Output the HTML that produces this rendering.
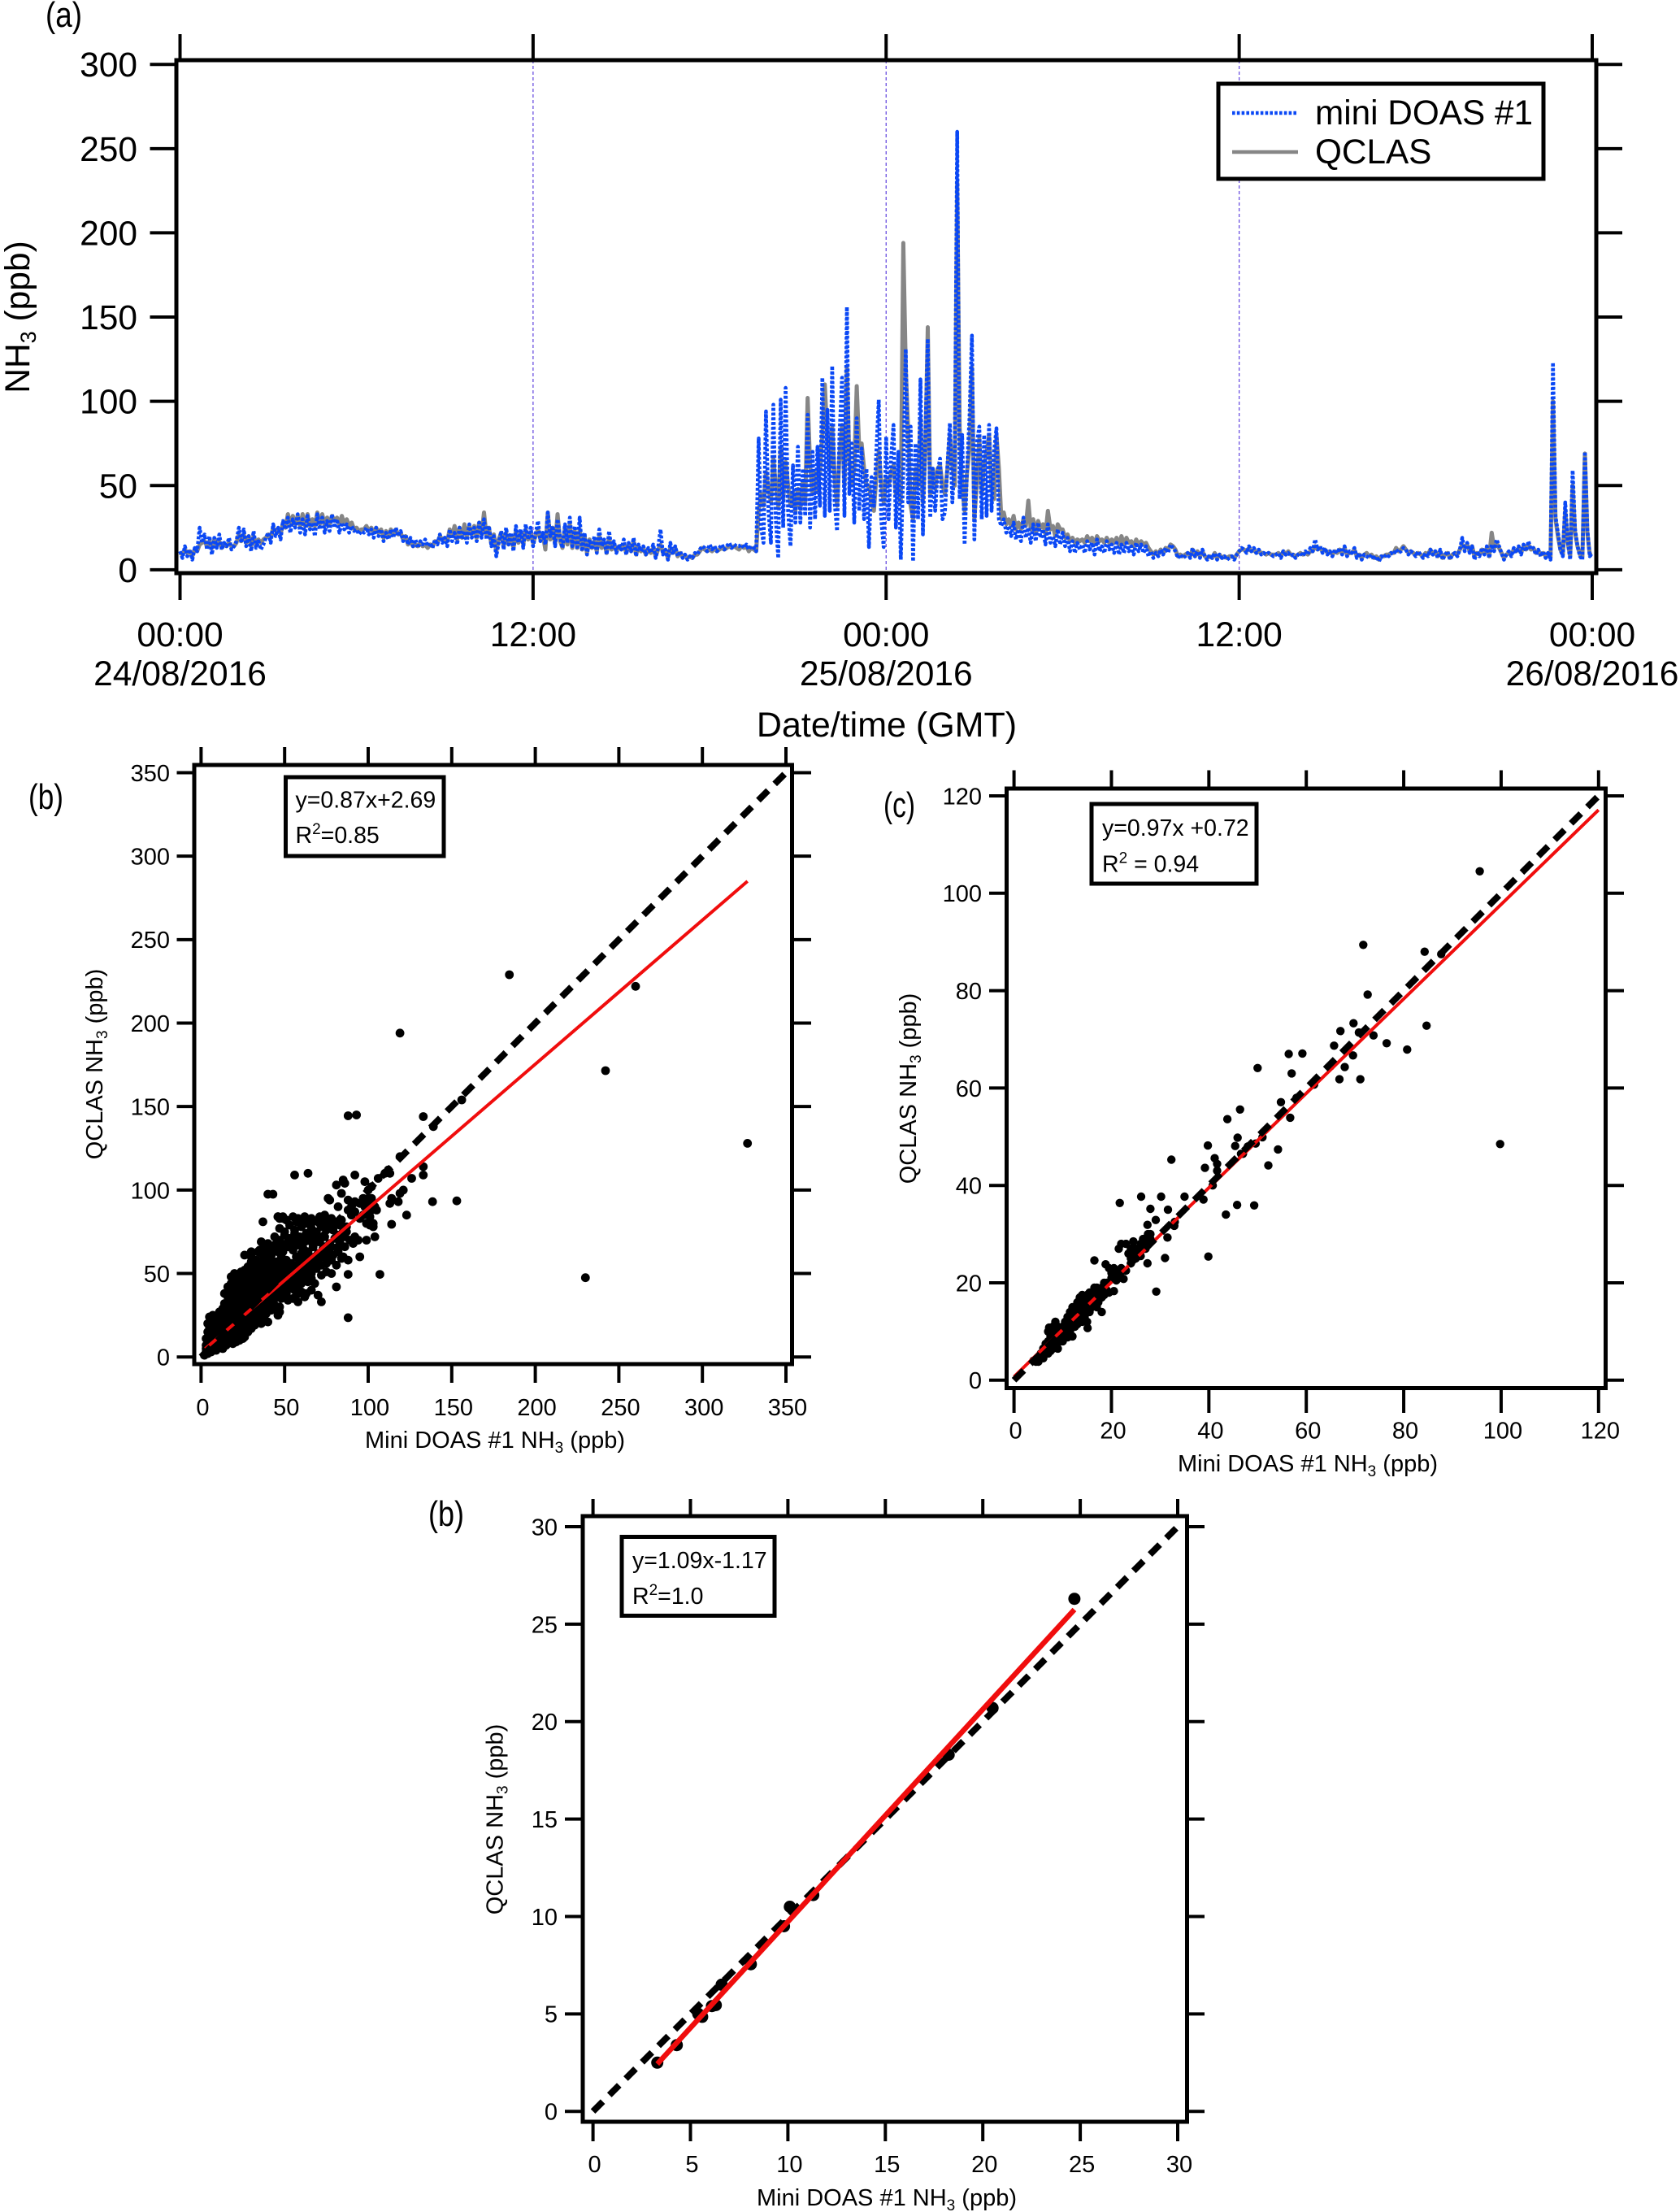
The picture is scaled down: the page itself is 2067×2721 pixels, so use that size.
<!DOCTYPE html>
<html lang="en">
<head>
<meta charset="utf-8">
<title>NH3 comparison: mini DOAS #1 and QCLAS</title>
<style>
  html, body { margin: 0; padding: 0; background: #fff; }
  svg { display: block; }
  text { font-family: "Liberation Sans", Arial, sans-serif; fill: #000; }
</style>
</head>
<body>
<svg id="figure" xmlns="http://www.w3.org/2000/svg" width="2067" height="2721" viewBox="0 0 2067 2721">
  <rect x="0" y="0" width="2067" height="2721" fill="#fff"/>

  <!-- Panel a -->
  <text x="56" y="33" font-size="44" textLength="45" lengthAdjust="spacingAndGlyphs">(a)</text>
  <g id="a-guides"></g>
  <g id="a-series"></g>
  <g id="a-axes"></g>
  <rect x="217" y="74" width="1747" height="631" fill="none" stroke="#000" stroke-width="5"/>
  <text transform="translate(36 390) rotate(-90)" text-anchor="middle" font-size="42.5">NH<tspan dy="8" font-size="27">3</tspan><tspan dy="-8"> (ppb)</tspan></text>
  <text x="1091" y="906" text-anchor="middle" font-size="43">Date/time (GMT)</text>
  <g>
    <rect x="1499" y="103" width="400" height="117" fill="#fff" stroke="#000" stroke-width="5"/>
    <line x1="1516" y1="139" x2="1597" y2="139" stroke="#0a48f5" stroke-width="4.5" stroke-dasharray="3.6 2.2"/>
    <text x="1618" y="153" font-size="42.3">mini DOAS #1</text>
    <line x1="1516" y1="187" x2="1597" y2="187" stroke="#868686" stroke-width="4.5"/>
    <text x="1618" y="201" font-size="42.3">QCLAS</text>
  </g>

  <!-- Panel b -->
  <text x="35" y="995" font-size="44" textLength="43" lengthAdjust="spacingAndGlyphs">(b)</text>
  <g id="b-plot"></g>
  <rect x="239" y="941" width="735.5" height="737" fill="none" stroke="#000" stroke-width="5"/>
  <text transform="translate(126 1309) rotate(-90)" text-anchor="middle" font-size="29">QCLAS NH<tspan dy="6" font-size="19">3</tspan><tspan dy="-6"> (ppb)</tspan></text>
  <text x="609" y="1781" text-anchor="middle" font-size="29">Mini DOAS #1 NH<tspan dy="6" font-size="19">3</tspan><tspan dy="-6"> (ppb)</tspan></text>
  <g>
    <rect x="351.5" y="956" width="194.5" height="97" fill="#fff" stroke="#000" stroke-width="5"/>
    <text x="363.5" y="993.5" font-size="28.5">y=0.87x+2.69</text>
    <text x="363.5" y="1037" font-size="28.5">R<tspan dy="-11" font-size="19">2</tspan><tspan dy="11">=0.85</tspan></text>
  </g>

  <!-- Panel c -->
  <text x="1087" y="1005" font-size="44" textLength="39" lengthAdjust="spacingAndGlyphs">(c)</text>
  <g id="c-plot"></g>
  <rect x="1238.5" y="970" width="737" height="737.5" fill="none" stroke="#000" stroke-width="5"/>
  <text transform="translate(1127 1339) rotate(-90)" text-anchor="middle" font-size="29">QCLAS NH<tspan dy="6" font-size="19">3</tspan><tspan dy="-6"> (ppb)</tspan></text>
  <text x="1609" y="1810" text-anchor="middle" font-size="29">Mini DOAS #1 NH<tspan dy="6" font-size="19">3</tspan><tspan dy="-6"> (ppb)</tspan></text>
  <g>
    <rect x="1343" y="989" width="203" height="98" fill="#fff" stroke="#000" stroke-width="5"/>
    <text x="1356" y="1028" font-size="28.5">y=0.97x +0.72</text>
    <text x="1356" y="1072.5" font-size="28.5">R<tspan dy="-11" font-size="19">2</tspan><tspan dy="11"> = 0.94</tspan></text>
  </g>

  <!-- Panel d -->
  <text x="527" y="1877" font-size="44" textLength="44" lengthAdjust="spacingAndGlyphs">(b)</text>
  <g id="d-plot"></g>
  <rect x="717" y="1865" width="743.5" height="745" fill="none" stroke="#000" stroke-width="5"/>
  <text transform="translate(618.5 2238) rotate(-90)" text-anchor="middle" font-size="29">QCLAS NH<tspan dy="6" font-size="19">3</tspan><tspan dy="-6"> (ppb)</tspan></text>
  <text x="1091" y="2713" text-anchor="middle" font-size="29">Mini DOAS #1 NH<tspan dy="6" font-size="19">3</tspan><tspan dy="-6"> (ppb)</tspan></text>
  <g>
    <rect x="765" y="1890.5" width="188" height="97" fill="#fff" stroke="#000" stroke-width="5"/>
    <text x="778" y="1929" font-size="28.5">y=1.09x-1.17</text>
    <text x="778" y="1973" font-size="28.5">R<tspan dy="-11" font-size="19">2</tspan><tspan dy="11">=1.0</tspan></text>
  </g>
</svg>

<script>
// ---------- Time-series data (5-minute samples, one row per hour) ----------
const sampleStepHours = 5 / 60;
const miniDoas = [
11,7,14,8,12,6,13,11,25,16,21,12,
20,9,19,13,21,12,16,14,19,12,14,17,
25,16,24,14,20,11,23,13,17,12,15,19,
22,16,27,20,25,18,29,24,31,22,30,25,
33,22,30,21,32,24,28,20,33,24,31,22,
29,23,33,25,30,22,28,24,27,22,26,23,
24,21,23,22,25,21,24,19,25,20,24,17,
22,18,24,19,25,20,23,17,21,15,19,14,
18,13,17,15,18,14,16,13,18,15,21,16,
19,14,24,17,22,15,25,18,23,16,27,19,
25,17,28,19,30,18,26,14,20,8,16,23,
12,25,15,22,11,26,16,24,13,27,18,25,
14,21,29,17,22,15,34,20,26,14,30,19,
13,27,16,31,14,26,12,31,11,22,9,18,
12,20,10,24,14,18,9,23,12,17,10,15,
12,18,9,16,11,19,8,15,11,14,9,13,
10,15,7,13,24,9,12,6,16,9,14,8,
11,7,9,6,8,7,10,9,12,14,13,11,
15,12,14,11,13,15,12,14,16,13,15,14,
14,15,13,15,12,14,13,11,78,25,16,94,
35,16,98,30,7,101,25,108,35,14,62,28,
73,28,60,32,92,25,70,30,73,38,114,32,
95,35,121,40,23,80,114,32,156,45,75,28,
90,35,72,30,60,13.5,55,38,70,101,30,13.5,
79,30,66,86,25,70,6,60,131,40,85,5,
75,30,113,21,80,137,31,60,35,58,66,30,
34,62,87,40,65,260,42,80,15,60,90,139,
18,75,85,30,80,32,86,35,70,84,30,26,
30,22,26,20,28,18,24,17,31,19,25,16,
27,17,28,19,24,15,27,16,20,14,24,15,
22,14,19,11,17,10,16,12,15,10,17,12,
16,9,18,11,14,10,17,12,15,10,16,9,
15,10,16,11,14,9,16,11,15,10,14,8,
11,7,10,8,12,9,13,10,15,13,11,7,
9,7,8,10,7,13,8,11,7,12,8,6,
9,7,10,6,9,7,8,6,7,8,6,9,
11,13,12,10,14,11,13,10,12,9,10,9,
10,9,8,9,10,7,11,9,10,8,9,7,
9,10,8,11,9,13,11,18,12,14,10,13,
9,11,8,12,10,13,9,14,8,11,10,13,
7,10,6,9,8,7,9,6,8,5,8,7,
9,8,10,9,12,10,11,13,12,9,11,10,
8,11,9,7,10,8,12,9,11,7,12,6,
9,11,6,9,10,8,12,19,11,16,10,14,
6,11,8,13,9,14,7,15,11,18,14,10,
6,9,11,8,13,10,14,9,15,11,17,12,
13,9,12,8,11,7,10,6,123,32,22,12,
8,40,17,6,59,24,14,8,6,70,24,8,
10];
const qclas = [
10,9,12,10,11,8,12,11,15,16,17,14,
17,13,18,14,17,13,15,14,16,14,14,16,
21,17,21,16,20,14,20,15,18,16,18,19,
21,19,25,23,24,21,28,25,33,27,32,27,
32,26,33,26,33,26,30,26,34,27,33,26,
31,27,32,29,31,27,32,27,30,26,28,24,
25,23,24,24,26,23,25,22,25,22,24,19,
23,20,24,21,24,21,22,18,20,15,17,14,
15,14,16,14,15,13,15,14,17,16,20,18,
19,17,24,20,26,18,25,19,27,20,26,21,
26,19,28,21,34,20,25,15,21,11,18,22,
14,22,15,20,13,23,16,22,15,24,18,22,
16,20,24,18,21,12,34,18,25,15,33,17,
13,25,15,27,13,23,13,24,12,20,10,18,
13,17,11,20,13,16,10,19,12,15,11,14,
12,15,10,15,11,17,9,14,11,13,9,12,
10,13,8,12,15,10,11,7,13,10,13,8,
10,8,8,7,8,7,9,9,11,13,12,11,
12,11,13,11,12,13,12,13,14,13,14,13,
12,14,13,14,11,13,12,11,35,45,38,58,
48,40,66,50,38,72,42,64,50,38,46,35,
48,36,52,40,102,62,45,58,46,60,80,110,
78,60,85,55,38,68,86,50,120,65,50,60,
109,72,75,60,50,50,40,35,55,70,52,40,
55,50,58,62,45,50,40,194,120,82,38,30,
60,50,90,40,70,144,45,60,48,60,62,50,
45,60,80,62,50,230,85,50,35,58,72,120,
30,52,78,45,62,70,80,48,42,80,60,30,
34,27,30,26,32,24,28,24,30,26,41,24,
30,22,29,25,27,21,35,24,26,20,27,24,
24,19,21,17,19,16,18,17,18,16,20,17,
19,15,20,17,18,16,19,16,18,16,19,15,
20,15,19,16,17,14,18,15,17,15,16,13,
11,9,11,9,12,10,13,12,15,14,12,8,
9,8,9,10,8,12,8,11,8,11,8,7,
8,7,10,7,9,7,8,7,8,8,7,9,
11,12,12,11,13,11,12,10,11,10,10,9,
10,9,9,9,10,8,11,9,11,9,9,8,
9,10,9,10,9,11,11,14,12,13,11,12,
10,11,9,11,10,12,10,13,9,10,10,12,
8,9,7,9,10,8,9,7,8,6,8,8,
9,9,10,10,13,11,12,14,12,10,11,10,
9,10,9,8,10,9,12,9,11,8,11,7,
9,10,7,9,10,9,12,15,13,15,11,14,
8,10,9,12,10,13,8,22,13,16,13,10,
7,9,10,9,12,11,13,10,14,12,15,12,
13,10,11,9,10,8,10,7,100,30,20,12,
9,35,16,8,50,22,14,9,8,69,22,9,
9];
const timeTickHours = [0, 12, 24, 36, 48];
const timeTickLabels = ["00:00", "12:00", "00:00", "12:00", "00:00"];
const timeDateLabels = ["24/08/2016", "", "25/08/2016", "", "26/08/2016"];
const timeGuideHours = [12, 24, 36];
const concTicks = [0, 50, 100, 150, 200, 250, 300];

// ---------- Scatter (b) ----------
const miniB = [
2,3,4,5,6,3,5,7,9,11,
13,3,5,7,9,11,13,15,17,19,
21,23,25,4,6,8,10,12,14,16,
18,20,22,24,26,28,30,4,6,8,
10,12,14,16,18,20,22,24,26,28,
30,32,34,36,5,7,9,11,13,15,
17,19,21,23,25,27,29,31,33,35,
37,40,11,13,15,17,19,21,23,25,
27,29,31,33,35,37,39,42,46,47,
14,16,18,20,22,24,26,28,30,32,
34,36,38,40,42,44,47,14,16,18,
20,22,24,26,28,30,32,34,36,38,
40,42,44,46,48,50,52,55,58,62,
19,21,23,25,27,29,31,33,35,37,
39,41,43,45,47,49,51,53,56,58,
60,63,66,70,72,81,18,20,22,24,
26,28,30,32,34,36,38,40,42,44,
46,48,50,52,54,56,58,60,62,64,
66,68,28,30,33,36,39,42,45,48,
51,54,57,60,63,66,69,72,75,78,
26,30,33,36,39,42,45,48,51,54,
57,60,63,66,69,72,75,78,81,84,
35,38,40,43,46,49,52,55,58,61,
64,67,70,73,76,79,82,85,88,36,
44,47,50,53,56,59,62,65,68,71,
74,77,80,83,86,89,91,47,50,53,
56,60,63,66,69,72,75,78,82,85,
46,49,51,55,57,60,66,71,74,78,
81,84,87,90,92,95,98,100,102,104,
184.5,260,242,119,230,327,88,93,133,156,
139,119,133,133,138.5,153,126,119,121,123,
114,107,95,88,88,56,64,40,43,37,
46,49,47,92,85,86,81,98,102,106,
112,110,113,105,113,118,114,101,103,104,
99,92,94,100,100,97,95,90,92,88,
88,84,77,76,82,97,101,103,99,102,
3,5,7,9,11,13,15,17,6,8,
10,12,14,16,18,20,22,24,5,7,
9,11,13,15,17,19,21,23,25,27,
9,12,14,16,18,20,22,24,26,28,
30,32,34,36,38,15,17,19,21,23,
25,27,29,31,33,35,37,39,41,43,
17,19,21,23,25,27,29,31,33,35,
37,39,41,43,45,47,49,51,16,18,
20,22,24,26,28,30,32,34,36,38,
40,42,44,46,48,50,52,54,56,58,
24,26,28,30,32,34,36,38,40,42,
44,46,48,50,52,54,56,58,60,62,
30,33,36,39,42,45,48,51,54,57,
60,63,66,69,72,30,34,38,42,46,
50,54,58,62,66,70,74,78,82,86,
40,44,48,52,56,60,64,68,72,76,
63,67,71,75,79,83,87,58,62,100];
const qclasB = [
1,3,2,5,3,7,8,5,4,6,
5,11,12,10,8,9,8,7,9,8,
9,10,11,15,16,14,13,12,11,12,
11,12,13,14,12,15,17,20,21,19,
18,17,16,15,17,16,17,16,18,19,
20,19,21,20,24,25,23,22,24,21,
21,22,20,21,22,23,22,24,23,25,
23,21,27,29,26,27,25,26,27,26,
27,26,28,27,28,27,26,28,25,27,
32,31,33,30,32,31,32,30,33,31,
32,31,33,31,33,31,30,38,36,38,
36,37,35,37,36,38,36,37,35,37,
36,38,35,37,35,36,34,35,33,36,
43,41,42,40,43,41,42,40,43,41,
42,40,43,41,42,40,43,41,40,42,
39,38,40,37,33,42,48,50,47,49,
47,49,46,48,46,49,47,45,48,46,
48,46,49,47,45,48,46,44,47,45,
47,44,54,56,53,55,52,54,51,53,
50,53,51,54,52,50,53,49,51,50,
61,60,58,62,59,61,57,60,58,56,
60,57,59,56,58,60,56,58,55,59,
64,66,64,65,66,63,66,64,67,65,
63,66,62,65,64,61,63,60,58,69,
72,70,73,71,74,72,70,73,71,69,
72,68,71,69,72,70,68,77,75,79,
76,78,74,77,75,78,76,79,73,75,
84,83,82,84,81,80,83,84,85,83,
80,82,78,85,87,83,90,92,88,90,
229,222,171.5,194,47.5,128,144.5,145,144,154,
138,120,114,109,93,93.5,107,98,100,85,
79.5,49.5,60,49.5,23.5,109,110,97.5,97.5,81,
84,84,83,109,106,104,103,105,102,107,
112,110,110,88,92,93,95,79,80,72,
70,72,70,88,100,95,92,90,93,88,
94,98,94,95,90,85,84,78,80,95,
5,6,7,6,8,10,12,10,14,12,
11,14,14,14,14,14,15,18,18,17,
16,20,19,18,19,19,19,24,24,21,
22,24,24,24,24,24,24,24,25,25,
25,25,25,25,25,29,29,29,29,29,
29,29,29,29,29,30,29,29,30,30,
34,34,34,34,34,34,34,34,34,34,
39,39,39,39,39,38,39,38,42,44,
43,45,44,45,44,45,44,45,45,45,
44,42,44,44,44,44,44,44,44,38,
51,52,50,51,50,50,50,50,50,50,
50,50,49,48,48,49,48,50,50,50,
57,57,57,57,57,56,56,55,55,55,
55,55,55,56,55,63,63,63,63,63,
67,68,69,69,69,69,66,66,66,66,
68,67,67,69,69,62,60,60,62,60,
80,81,80,81,76,79,75,83,84,95];
const fitBx = [2.5, 327];
const fitBy = [4.9, 285];
const ticksB = [0, 50, 100, 150, 200, 250, 300, 350];

// ---------- Scatter (c) ----------
const miniC = [
95.6,99.8,71.7,84.3,87.7,72.6,84.7,69.7,67,70.8,
73.8,76.5,80.7,65.7,69.6,67.9,65,66.8,71.1,61.6,
56.4,59.2,50,57,54.8,56.7,46.4,43.8,45.9,45.4,
39.8,49.6,51,54.2,46.6,41.2,41.7,41.7,39.2,32.3,
52.2,40.8,38.9,35,30.2,26.1,21.7,28,31.6,45.8,
49.3,43.5,29.1,27.4,32.9,31.5,39.9,31,27.4,16.5,
29.2,15.1,33,47,48,58,21.5,22,23,24,
24.5,26,27,27.5,28,28,26.5,23.5,24,25,
25,18.8,19.5,20,20.5,21,21.5,22,22.5,19,
20,18.5,19.5,20.5,18,17,16.5,16.5,18.5,18,
17.3,27,27.5,25,26,4,4.5,5,5.5,5.5,
6,6,6.5,6.5,7,7,7,7.2,7.5,7.5,
8,8,8,8.5,8.5,8.5,9,9,9,9.5,
9.5,10,10,10,10.5,10.5,11,11,11,11.5,
11.5,11.5,12,12,12,12,12.5,12.5,13,13,
13,13.5,13.5,13.5,14,14,14,14,14.5,14.5,
14.5,15,15,15,15,15.5,15.5,15.5,16,16,
16.5,17,17,6,7.5,9,10.5,12,13.5,15,
16.5,18,19,21,23,24,26];
const qclasC = [
104.5,48.5,89.4,88,87.5,79.2,72.8,73.3,71.7,71.4,
70.8,69.2,67.9,68.7,66.7,64.3,64.5,61.8,61.8,60.7,
67,67.1,64.1,63,57.1,53.9,55.6,53.6,49.8,48.1,
48.2,48.6,49.9,47.4,46.5,45.6,44.4,43,43.6,45.3,
44.1,40,37.1,37.7,37.7,37.7,36.4,35.2,35,36,
35.9,34,32.9,31.9,31.7,29.3,25.4,25.1,24,24.6,
18.2,10.7,32.5,46.5,48,58,27,28,28,27,
28.5,28,29,30,29,30,29,26,25,25,
27,23.8,23,22,23,22,21,23,20.8,20,
21,20,18,18.3,19,19,19,17.5,17.5,14,
16,27,28,26,26.5,4,3.8,3.8,4.5,5.5,
4.5,6.5,5.5,7.5,5.5,8,10,10.8,6,9,
6.5,8,11,7,10,12,6.5,8,11,8,
10,8,9.5,11,9,12,8.8,10.5,13,10,
12,14,9,11,13,15,11,13,11.5,14,
16,12,15,17,12,14,16,17.5,13,15,
17,12,14,16,17.5,14,16,18,15,17,
18.5,15,17,5.5,7,8.5,10,11.5,13,14.5,
16,17,18.5,20.5,22.5,24,25.5];
const fitCx = [0, 120];
const fitCy = [0.72, 117.12];
const ticksC = [0, 20, 40, 60, 80, 100, 120];

// ---------- Scatter (d) ----------
const miniD = [3.3, 4.3, 5.6, 5.4, 6.3, 6.1, 6.6, 8.1, 9.8, 10.1, 11.3, 18.25, 20.5, 24.7];
const qclasD = [2.5, 3.4, 4.85, 5.0, 5.45, 5.4, 6.5, 7.55, 9.5, 10.5, 11.1, 18.3, 20.7, 26.3];
const fitDx = [3.3, 24.7];
const fitDy = [2.43, 25.75];
const ticksD = [0, 5, 10, 15, 20, 25, 30];

// ---------- Helpers ----------
const SVG_NS = 'http://www.w3.org/2000/svg';
function linearAxis(d0, d1, r0, r1) {
  return function (v) { return r0 + (v - d0) * (r1 - r0) / (d1 - d0); };
}
function mk(parent, tag, props, content) {
  const el = document.createElementNS(SVG_NS, tag);
  for (const k in props) el.setAttribute(k, props[k]);
  if (content !== undefined) el.textContent = content;
  parent.appendChild(el);
  return el;
}
function pathFrom(xs, ys, xAxis, yAxis) {
  let d = '';
  for (let i = 0; i < xs.length; i++) {
    if (ys[i] === undefined) continue;
    d += (d ? 'L' : 'M') + xAxis(xs[i]).toFixed(1) + ' ' + yAxis(ys[i]).toFixed(1);
  }
  return d;
}

// ---------- Panel a ----------
(function () {
  const xA = linearAxis(0, 48, 221.5, 1959);
  const yA = linearAxis(0, 300, 700.9, 79.2);
  const guides = document.getElementById('a-guides');
  const series = document.getElementById('a-series');
  const axes = document.getElementById('a-axes');

  timeGuideHours.forEach(function (h) {
    const el = mk(guides, 'line', { x1: xA(h), x2: xA(h), y1: 74, y2: 705, stroke: '#6a4fe0', 'stroke-width': 1.3, 'stroke-dasharray': '4 3' });
    
    
  });

  const hoursQ = qclas.map(function (_, i) { return i * sampleStepHours; });
  const hoursM = miniDoas.map(function (_, i) { return i * sampleStepHours; });
  const qPath = mk(series, 'path', { d: pathFrom(hoursQ, qclas, xA, yA), fill: 'none', stroke: '#868686', 'stroke-width': 5, 'stroke-linejoin': 'round' });
  
  
  const mPath = mk(series, 'path', { d: pathFrom(hoursM, miniDoas, xA, yA), fill: 'none', stroke: '#0a48f5', 'stroke-width': 4.6, 'stroke-dasharray': '3.6 2.2', 'stroke-linejoin': 'round' });
  
  

  timeTickHours.forEach(function (h, i) {
    const px = xA(h);
    const top = mk(axes, 'line', { x1: px, x2: px, y1: 42, y2: 74, stroke: '#000', 'stroke-width': 4 });
    
    
    const bottom = mk(axes, 'line', { x1: px, x2: px, y1: 705, y2: 738, stroke: '#000', 'stroke-width': 4 });
    
    
    const lab = mk(axes, 'text', { x: px, y: 795, 'text-anchor': 'middle', 'font-size': 42.5 }, timeTickLabels[i]);
    
    
    if (timeDateLabels[i]) {
      const dl = mk(axes, 'text', { x: px, y: 843, 'text-anchor': 'middle', 'font-size': 42.5 }, timeDateLabels[i]);
      
      
    }
  });

  concTicks.forEach(function (v) {
    const py = yA(v);
    const left = mk(axes, 'line', { x1: 184.5, x2: 217, y1: py, y2: py, stroke: '#000', 'stroke-width': 4 });
    
    
    const right = mk(axes, 'line', { x1: 1964, x2: 1996, y1: py, y2: py, stroke: '#000', 'stroke-width': 4 });
    
    
    const lab = mk(axes, 'text', { x: 169, y: py + 15, 'text-anchor': 'end', 'font-size': 42.5 }, String(v));
    
    
  });
})();

// ---------- Scatter panels ----------
function drawScatter(cfg) {
  const g = document.getElementById(cfg.id);
  const xS = linearAxis(0, cfg.max, cfg.x0, cfg.x1);
  const yS = linearAxis(0, cfg.max, cfg.y0, cfg.y1);

  cfg.xs.forEach(function (x, i) {
    if (cfg.ys[i] === undefined) return;
    const dot = mk(g, 'circle', { cx: xS(x).toFixed(1), cy: yS(cfg.ys[i]).toFixed(1), r: cfg.r, fill: '#000' });
    
    
  });

  const fit = mk(g, 'path', { d: pathFrom(cfg.fitX, cfg.fitY, xS, yS), fill: 'none', stroke: '#f00d0d', 'stroke-width': cfg.fitWidth });
  
  

  const unity = mk(g, 'line', { x1: xS(0), y1: yS(0), x2: xS(cfg.max), y2: yS(cfg.max), stroke: '#000', 'stroke-width': 8, 'stroke-dasharray': '17 11.5' });
  
  

  if (cfg.fitOnTop) g.appendChild(fit);

  cfg.ticks.forEach(function (t) {
    const px = xS(t), py = yS(t);
    const xTop = mk(g, 'line', { x1: px, x2: px, y1: cfg.tickTop, y2: cfg.frameTop, stroke: '#000', 'stroke-width': 4 });
    
    
    const xBot = mk(g, 'line', { x1: px, x2: px, y1: cfg.frameBottom, y2: cfg.tickBottom, stroke: '#000', 'stroke-width': 4 });
    
    
    const yLeft = mk(g, 'line', { x1: cfg.tickLeft, x2: cfg.frameLeft, y1: py, y2: py, stroke: '#000', 'stroke-width': 4 });
    
    
    const yRight = mk(g, 'line', { x1: cfg.frameRight, x2: cfg.tickRight, y1: py, y2: py, stroke: '#000', 'stroke-width': 4 });
    
    
    const xLab = mk(g, 'text', { x: px + 2, y: cfg.xLabelBase, 'text-anchor': 'middle', 'font-size': 29 }, String(t));
    
    
    const yLab = mk(g, 'text', { x: cfg.yLabelRight, y: py + 10.4, 'text-anchor': 'end', 'font-size': 29 }, String(t));
    
    
  });
}

drawScatter({ id: 'b-plot', max: 350, x0: 247.4, x1: 967, y0: 1669.2, y1: 950.5, r: 5.4, fitWidth: 4,
  xs: miniB, ys: qclasB, fitX: fitBx, fitY: fitBy, ticks: ticksB, fitOnTop: false,
  frameTop: 941, frameBottom: 1678, frameLeft: 239, frameRight: 974.5,
  tickTop: 919, tickBottom: 1701, tickLeft: 217.5, tickRight: 998, xLabelBase: 1741, yLabelRight: 209 });

drawScatter({ id: 'c-plot', max: 120, x0: 1247.6, x1: 1966.8, y0: 1697.8, y1: 979, r: 5.2, fitWidth: 4,
  xs: miniC, ys: qclasC, fitX: fitCx, fitY: fitCy, ticks: ticksC, fitOnTop: false,
  frameTop: 970, frameBottom: 1707.5, frameLeft: 1238.5, frameRight: 1975.5,
  tickTop: 947.5, tickBottom: 1738, tickLeft: 1217, tickRight: 1998, xLabelBase: 1769.5, yLabelRight: 1208 });

drawScatter({ id: 'd-plot', max: 30, x0: 729.6, x1: 1449, y0: 2597.2, y1: 1878, r: 7.5, fitWidth: 6.5,
  xs: miniD, ys: qclasD, fitX: fitDx, fitY: fitDy, ticks: ticksD, fitOnTop: true,
  frameTop: 1865, frameBottom: 2610, frameLeft: 717, frameRight: 1460.5,
  tickTop: 1844, tickBottom: 2634, tickLeft: 695, tickRight: 1482, xLabelBase: 2672, yLabelRight: 686 });
</script>
</body>
</html>
